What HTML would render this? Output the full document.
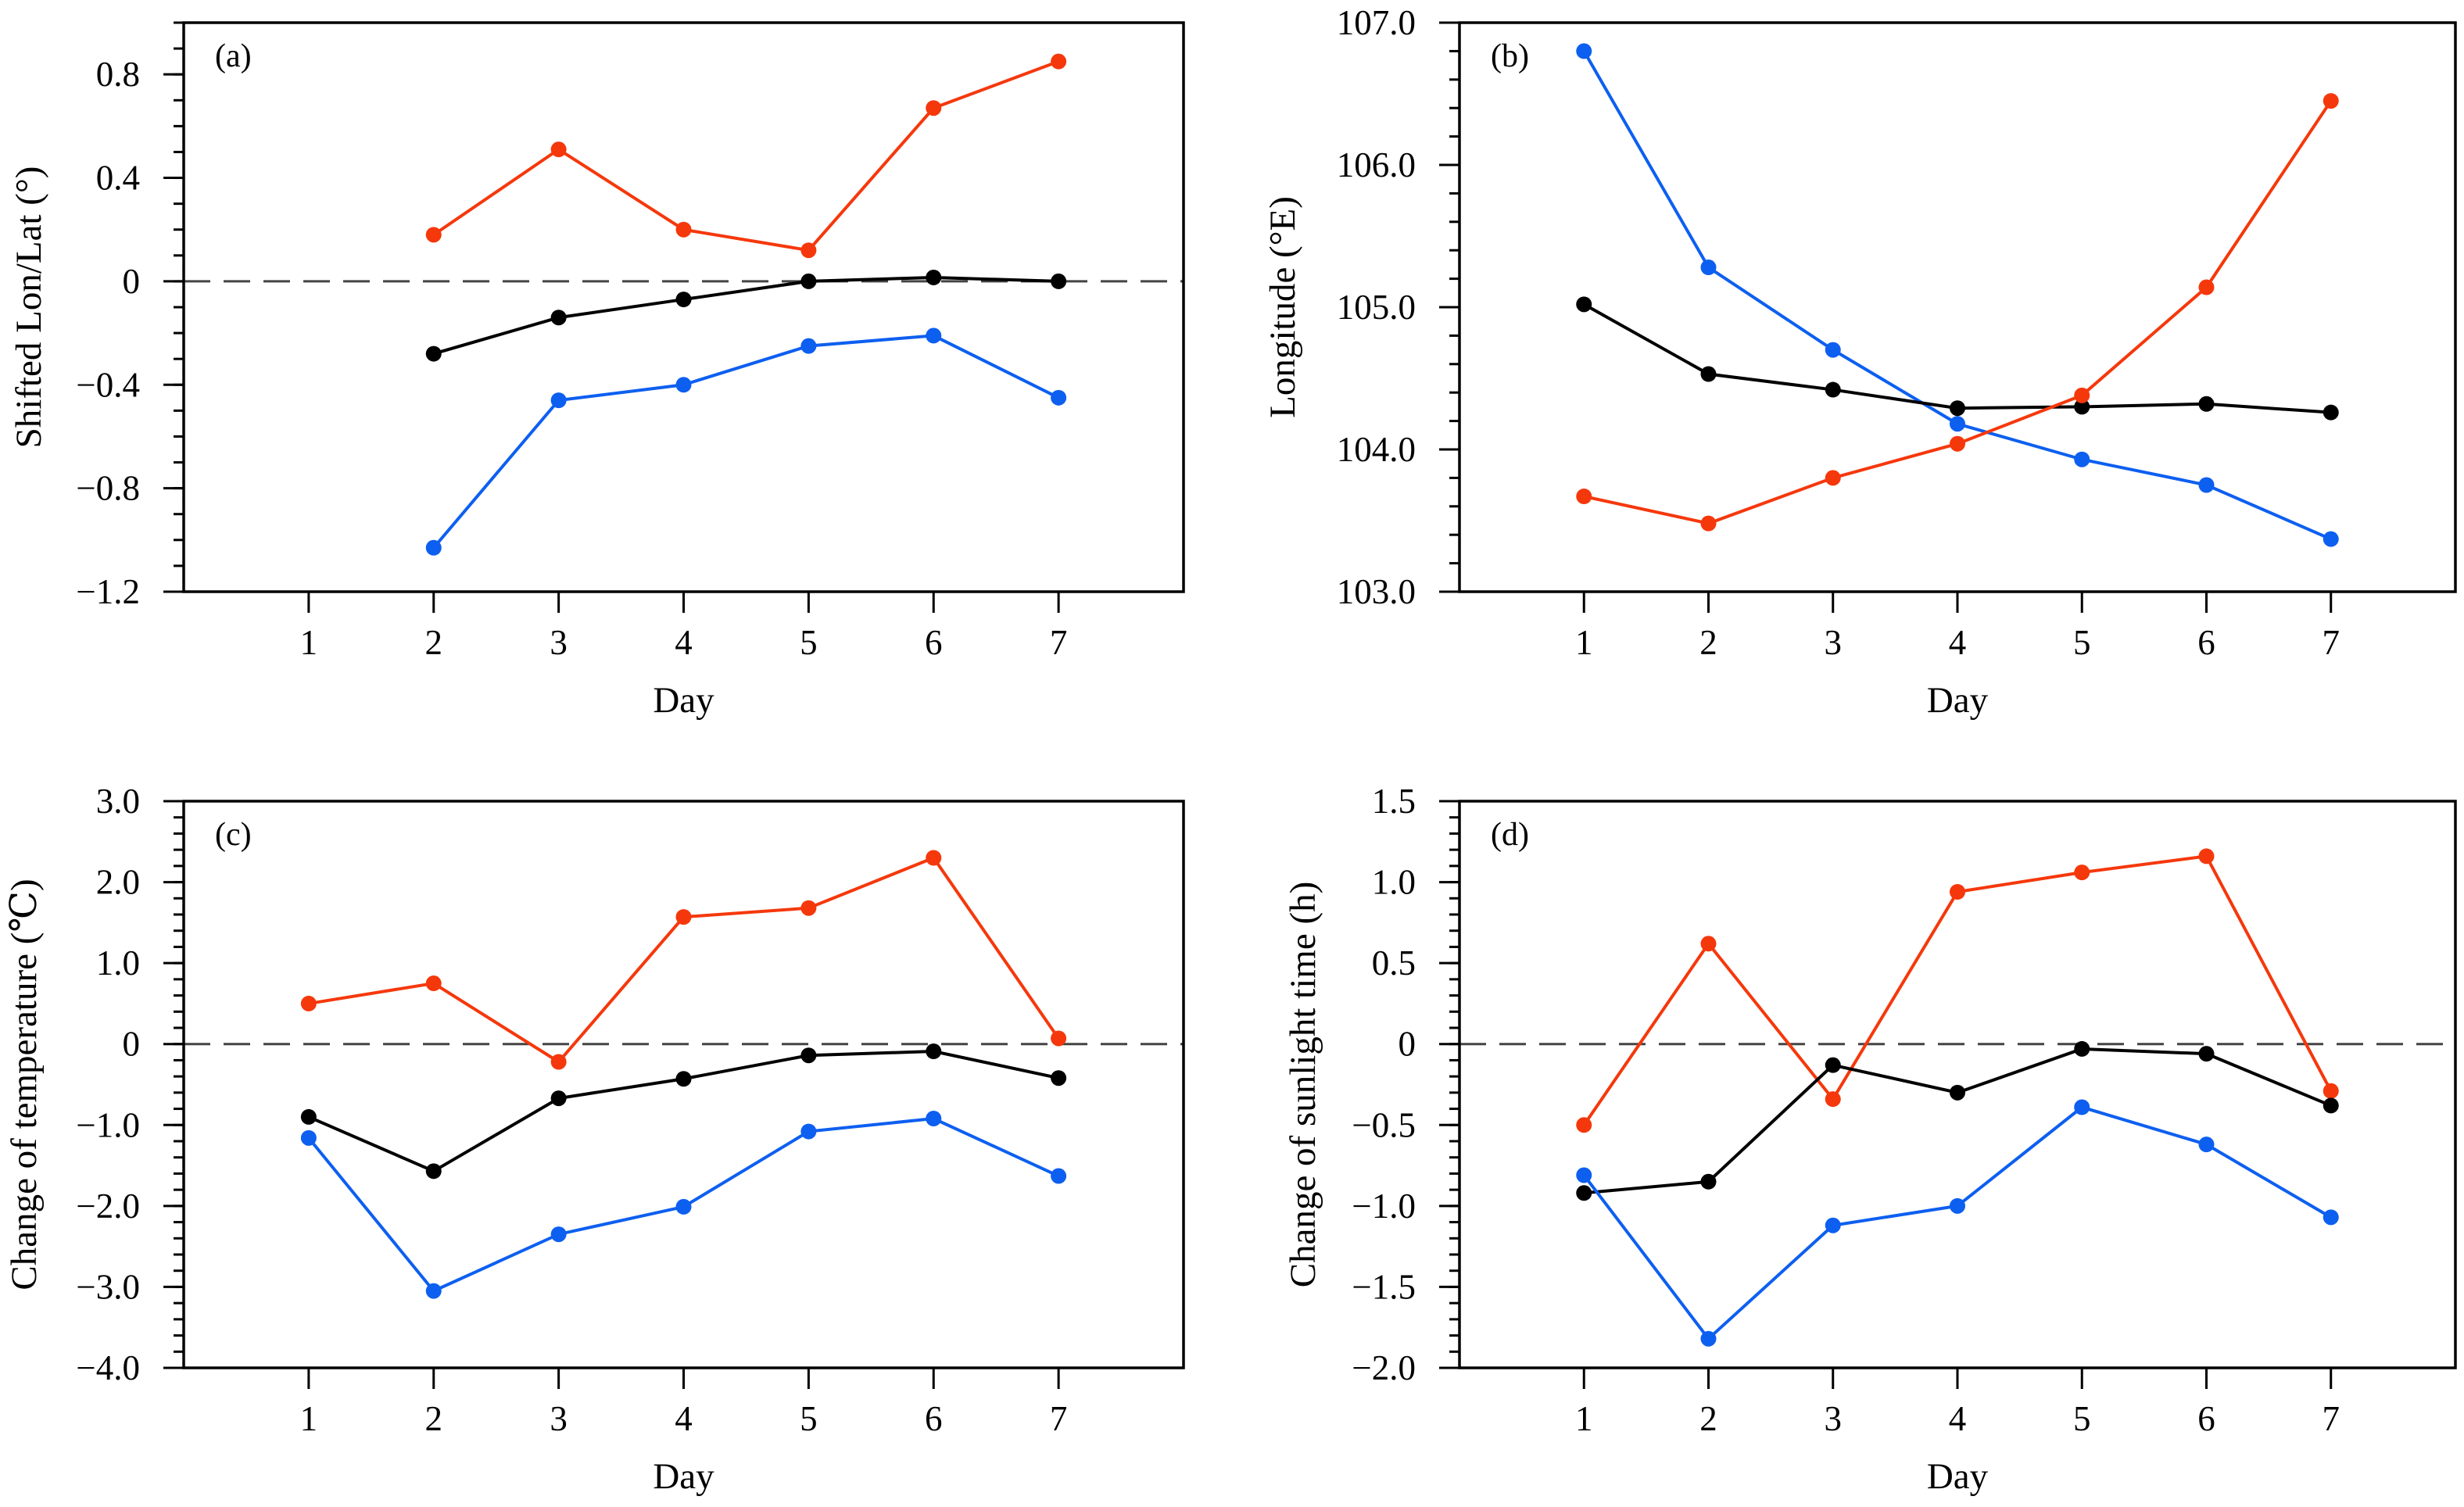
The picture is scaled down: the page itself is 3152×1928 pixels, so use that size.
<!DOCTYPE html>
<html><head><meta charset="utf-8"><style>
html,body{margin:0;padding:0;background:#fff;}
svg{display:block;font-family:"Liberation Serif","DejaVu Serif",serif;}
</style></head><body>
<svg id="fig" width="3152" height="1928" viewBox="0 0 3152 1928" xmlns="http://www.w3.org/2000/svg"></svg>
<script>
const days = [1,2,3,4,5,6,7];
const aDays = [2,3,4,5,6,7];
const aRed = [0.18,0.51,0.20,0.12,0.67,0.85];
const aBlack = [-0.28,-0.14,-0.07,0.0,0.015,0.0];
const aBlue = [-1.03,-0.46,-0.40,-0.25,-0.21,-0.45];
const bBlue = [106.8,105.28,104.7,104.18,103.93,103.75,103.37];
const bBlack = [105.02,104.53,104.42,104.29,104.3,104.32,104.26];
const bRed = [103.67,103.48,103.8,104.04,104.38,105.14,106.45];
const cRed = [0.5,0.75,-0.22,1.57,1.68,2.3,0.07];
const cBlack = [-0.9,-1.57,-0.67,-0.43,-0.14,-0.09,-0.42];
const cBlue = [-1.16,-3.05,-2.35,-2.01,-1.08,-0.92,-1.63];
const dRed = [-0.5,0.62,-0.34,0.94,1.06,1.16,-0.29];
const dBlack = [-0.92,-0.85,-0.13,-0.3,-0.03,-0.06,-0.38];
const dBlue = [-0.81,-1.82,-1.12,-1.0,-0.39,-0.62,-1.07];
const aTicks = ["0.8","0.4","0","-0.4","-0.8","-1.2"];
const bTicks = ["107.0","106.0","105.0","104.0","103.0"];
const cTicks = ["3.0","2.0","1.0","0","-1.0","-2.0","-3.0","-4.0"];
const dTicks = ["1.5","1.0","0.5","0","-0.5","-1.0","-1.5","-2.0"];

const NS="http://www.w3.org/2000/svg";
const svg=document.getElementById('fig');
function mk(tag,attrs,parent){const e=document.createElementNS(NS,tag);for(const k in attrs)e.setAttribute(k,attrs[k]);(parent||svg).appendChild(e);return e;}

const RED="#f5380c", BLUE="#0d5ff0", BLACK="#000";

function panel(cfg){
  const g=mk('g',{});
  
  
  const L=cfg.L,R=cfg.R,T=cfg.T,B=cfg.B;
  const xs=d=>L+(R-L)*d/8;
  const ys=v=>B-(B-T)*(v-cfg.ymin)/(cfg.ymax-cfg.ymin);
  const nMinor=Math.round((cfg.ymax-cfg.ymin)/cfg.minor);
  for(let i=0;i<=nMinor;i++){
    const v=cfg.ymin+i*cfg.minor;
    const y=ys(v);
    const t=mk('line',{x1:L-13,x2:L,y1:y,y2:y,stroke:'#000','stroke-width':3},g);
    
    
  }
  cfg.ticks.forEach(lbl=>{
    const v=parseFloat(lbl);
    const y=ys(v);
    const t=mk('line',{x1:L-26,x2:L,y1:y,y2:y,stroke:'#000','stroke-width':3},g);
    
    
    const tx=mk('text',{x:L-56,y:y+15,'font-size':45,'text-anchor':'end'},g);
    tx.textContent=lbl.replace('-','\u2212');
    
    
  });
  days.forEach(d=>{
    const x=xs(d);
    const t=mk('line',{x1:x,x2:x,y1:B,y2:B+27,stroke:'#000','stroke-width':3},g);
    
    
    const tx=mk('text',{x:x,y:B+80,'font-size':45,'text-anchor':'middle'},g);
    tx.textContent=String(d);
    
    
  });
  if(cfg.zero){
    const z=mk('line',{x1:L,x2:R,y1:ys(0),y2:ys(0),stroke:'#444','stroke-width':3,'stroke-dasharray':'34,17'},g);
    
    
  }
  cfg.series.forEach(s=>{
    const pts=s.x.map((d,i)=>xs(d)+','+ys(s.v[i])).join(' ');
    const pl=mk('polyline',{points:pts,fill:'none',stroke:s.c,'stroke-width':4},g);
    
    
    s.x.forEach((d,i)=>{
      const c=mk('circle',{cx:xs(d),cy:ys(s.v[i]),r:10,fill:s.c},g);
      
      
    });
  });
  const box=mk('rect',{x:L,y:T,width:R-L,height:B-T,fill:'none',stroke:'#000','stroke-width':3.5},g);
  
  
  const pl=mk('text',{x:L+40,y:T+56,'font-size':42},g);
  pl.textContent='('+cfg.id+')';
  
  
  const xl=mk('text',{x:(L+R)/2,y:B+154,'font-size':47,'text-anchor':'middle'},g);
  xl.textContent='Day';
  
  
  const yc=(T+B)/2;
  const yl=mk('text',{x:cfg.yx,y:yc,'font-size':47,'text-anchor':'middle',transform:`rotate(-90 ${cfg.yx} ${yc})`},g);
  yl.textContent=cfg.ytitle;
  
  
}

panel({id:'a',L:235,R:1514,T:29,B:757,ymin:-1.2,ymax:1.0,minor:0.1,ticks:aTicks,zero:true,yx:52,ytitle:'Shifted Lon/Lat (°)',
  series:[{n:'red',c:RED,x:aDays,v:aRed},{n:'black',c:BLACK,x:aDays,v:aBlack},{n:'blue',c:BLUE,x:aDays,v:aBlue}]});
panel({id:'b',L:1867,R:3141,T:29,B:757,ymin:103,ymax:107,minor:0.2,ticks:bTicks,zero:false,yx:1656,ytitle:'Longitude (°E)',
  series:[{n:'blue',c:BLUE,x:days,v:bBlue},{n:'black',c:BLACK,x:days,v:bBlack},{n:'red',c:RED,x:days,v:bRed}]});
panel({id:'c',L:235,R:1514,T:1025,B:1750,ymin:-4,ymax:3,minor:0.2,ticks:cTicks,zero:true,yx:46,ytitle:'Change of temperature (℃)',
  series:[{n:'red',c:RED,x:days,v:cRed},{n:'black',c:BLACK,x:days,v:cBlack},{n:'blue',c:BLUE,x:days,v:cBlue}]});
panel({id:'d',L:1867,R:3141,T:1025,B:1750,ymin:-2,ymax:1.5,minor:0.1,ticks:dTicks,zero:true,yx:1682,ytitle:'Change of sunlight time (h)',
  series:[{n:'red',c:RED,x:days,v:dRed},{n:'black',c:BLACK,x:days,v:dBlack},{n:'blue',c:BLUE,x:days,v:dBlue}]});
</script>
</body></html>
